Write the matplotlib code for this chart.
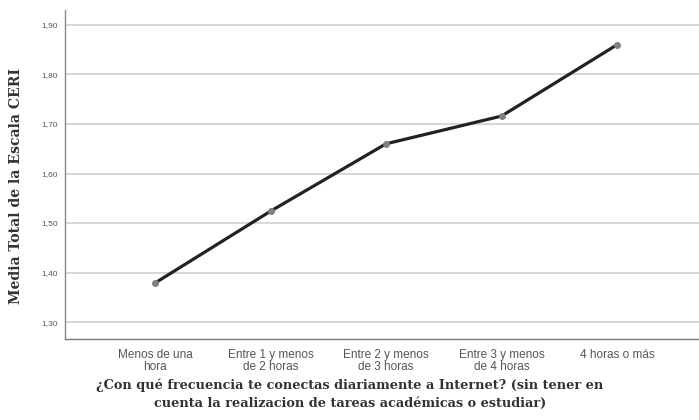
import matplotlib
matplotlib.use("Agg")
import matplotlib.pyplot as plt

categories = ["Menos de una\nhora", "Entre 1 y menos\nde 2 horas", "Entre 2 y menos\nde 3 horas",
              "Entre 3 y menos\nde 4 horas", "4 horas o más"]
values = [1.379, 1.524, 1.660, 1.716, 1.860]
yticks = [1.30, 1.40, 1.50, 1.60, 1.70, 1.80, 1.90]
ytick_labels = ["1,30", "1,40", "1,50", "1,60", "1,70", "1,80", "1,90"]

fig = plt.figure(figsize=(6.99, 4.20), dpi=100)
ax = fig.add_axes([0.093, 0.193, 0.907, 0.783])

x = list(range(len(categories)))
ax.plot(x, values, color="#222222", linewidth=2.3, zorder=3)
ax.plot(x, values, linestyle="none", marker="o", markersize=4, color="#808080", zorder=4)

ax.set_xlim(-0.78, 4.71)
ax.set_ylim(1.266, 1.93)
ax.set_yticks(yticks)
ax.set_yticklabels(ytick_labels, fontsize=6, color="#555555", family="Liberation Sans")
ax.set_xticks(x)
ax.set_xticklabels(categories, fontsize=8.5, color="#555555", family="Liberation Sans", linespacing=1.02)
ax.tick_params(axis="x", length=0, pad=7)
ax.tick_params(axis="y", length=0, pad=5)
ax.grid(axis="y", color="#d6d6d6", linewidth=1.4)
ax.set_axisbelow(True)
for s in ["top", "right"]:
    ax.spines[s].set_visible(False)
ax.spines["left"].set_color("#888888")
ax.spines["bottom"].set_color("#777777")
ax.spines["left"].set_linewidth(1.0)
ax.spines["bottom"].set_linewidth(1.0)

ax.set_ylabel("Media Total de la Escala CERI", fontsize=10.1, fontweight="bold",
              family="DejaVu Serif", color="#333333")
ax.yaxis.set_label_coords(16 / 699, (420 - 186) / 420, transform=fig.transFigure)
ax.yaxis.label.set_horizontalalignment("center")
ax.yaxis.label.set_verticalalignment("center")
ax.set_xlabel("¿Con qué frecuencia te conectas diariamente a Internet? (sin tener en\n"
              "cuenta la realizacion de tareas académicas o estudiar)",
              fontsize=9.3, fontweight="bold", family="DejaVu Serif", color="#333333",
              linespacing=1.45)
ax.xaxis.set_label_coords(350 / 699, (420 - 394) / 420, transform=fig.transFigure)
ax.xaxis.label.set_verticalalignment("center")

fig.savefig("out.png", dpi=100)
